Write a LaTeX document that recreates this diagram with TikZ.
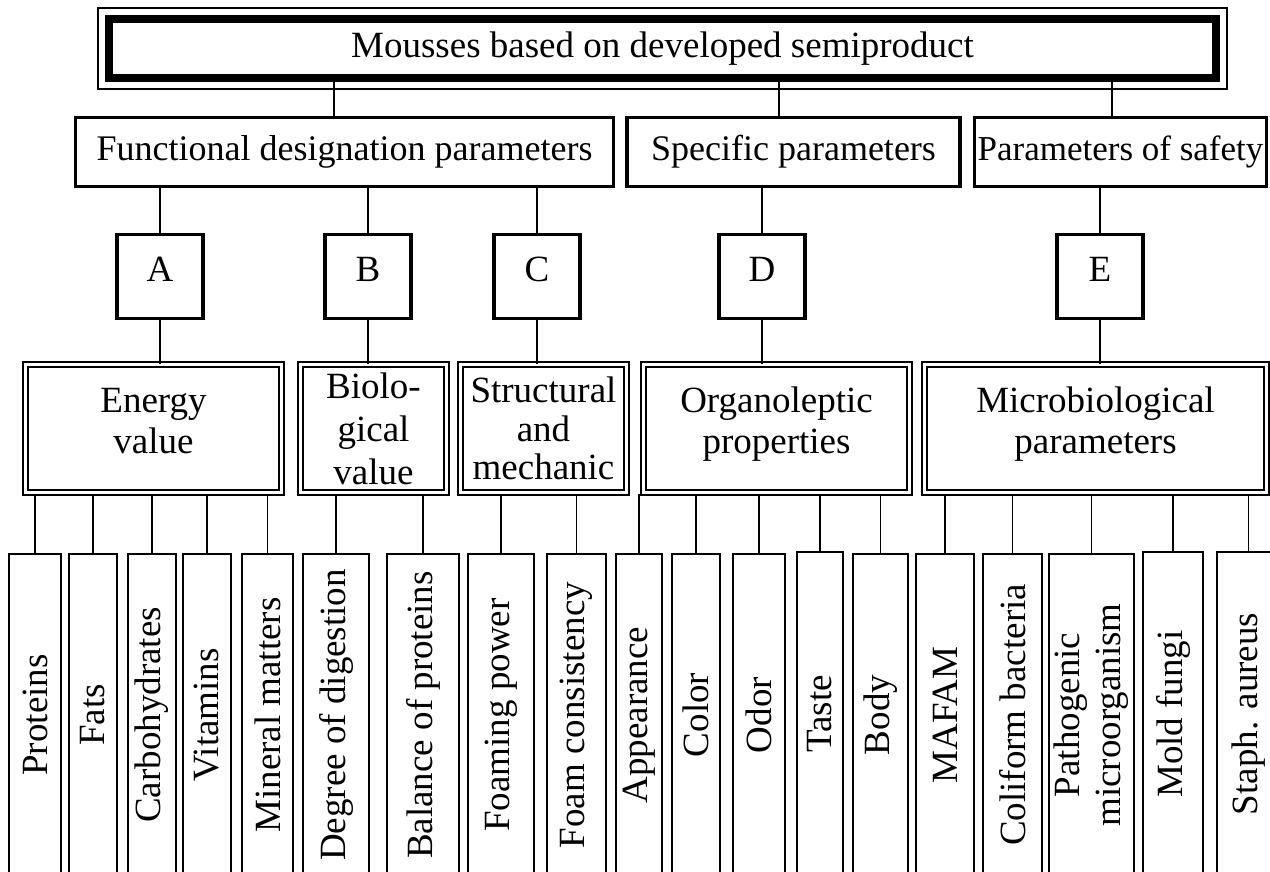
\documentclass[tikz,border=0pt]{standalone}
\usepackage{fontspec}
\setmainfont{Liberation Serif}

\begin{document}
\begin{tikzpicture}[x=1pt, y=-1pt,
    every node/.style={font=\fontsize{37}{41}\selectfont, inner sep=0pt},
    topbox/.style={draw, line width=8pt, minimum width=1107pt, minimum height=59pt},
    groupbox/.style={draw, line width=3.3pt, minimum height=68.5pt, font=\fontsize{36}{40}\selectfont},
    letterbox/.style={draw, line width=3.3pt, minimum width=86pt, minimum height=84pt, text depth=14pt},
    propbox/.style={draw, double, double distance=2.3pt, line width=2pt, minimum height=128pt, align=center},
    leaf/.style={draw, line width=1.5pt, minimum height=322pt},
    stem/.style={line width=1.4pt}]
    \useasboundingbox (0,0) rectangle (1270,872);
    \clip (0,0) rectangle (1270,872);

    % Top: the product
    \node[topbox] (mousses) at (662.5,48.5) {Mousses based on developed semiproduct};
    \draw[line width=1.3pt] ([shift={(-7pt,7pt)}]mousses.north west) rectangle ([shift={(7pt,-7pt)}]mousses.south east);

    % Groups of parameters
    \node[groupbox, minimum width=538pt] (functional) at (344.5,152) {Functional designation parameters};
    \node[groupbox, minimum width=333pt] (specific) at (793.5,152) {Specific parameters};
    \node[groupbox, minimum width=292pt, font=\fontsize{35}{40}\selectfont] (safety) at (1120.5,152) {Parameters of safety};
    \draw[stem] ([xshift=-10.5pt]functional.north) -- ([xshift=-10.5pt]functional.north |- mousses.south);
    \draw[stem] ([xshift=-14.5pt]specific.north) -- ([xshift=-14.5pt]specific.north |- mousses.south);
    \draw[stem] ([xshift=-8.5pt]safety.north) -- ([xshift=-8.5pt]safety.north |- mousses.south);

    % Letters
    \node[letterbox] (A) at (160,276.5) {A};
    \node[letterbox] (B) at (368,276.5) {B};
    \node[letterbox] (C) at (537,276.5) {C};
    \node[letterbox] (D) at (762,276.5) {D};
    \node[letterbox] (E) at (1100,276.5) {E};
    \draw[stem] (A.north) -- (A.north |- functional.south);
    \draw[stem] (B.north) -- (B.north |- functional.south);
    \draw[stem] (C.north) -- (C.north |- functional.south);
    \draw[stem] (D.north) -- (D.north |- specific.south);
    \draw[stem] (E.north) -- (E.north |- safety.south);

    % Properties
    \node[propbox, minimum width=256pt, text depth=16pt] (energy) at (153.5,428.5) {Energy\\value};
    \node[propbox, minimum width=146pt, font=\fontsize{37}{43}\selectfont] (bio) at (373.5,428.5) {Biolo-\\gical\\value};
    \node[propbox, minimum width=166pt, font=\fontsize{37}{38.5}\selectfont] (struct) at (543.5,428.5) {Structural\\and\\mechanic};
    \node[propbox, minimum width=266pt, text depth=16pt] (organo) at (776.5,428.5) {Organoleptic\\properties};
    \node[propbox, minimum width=342pt, text depth=16pt] (micro) at (1095.5,428.5) {Microbiological\\parameters};
    \draw[stem] (A.south) -- (A.south |- energy.north);
    \draw[stem] (B.south) -- (B.south |- bio.north);
    \draw[stem] (C.south) -- (C.south |- struct.north);
    \draw[stem] (D.south) -- (D.south |- organo.north);
    \draw[stem] (E.south) -- (E.south |- micro.north);

    % Energy value
    \node[leaf, minimum width=52pt] (proteins) at (35,715) {\rotatebox{90}{Proteins}};
    \node[leaf, minimum width=48pt] (fats) at (93,715) {\rotatebox{90}{Fats}};
    \node[leaf, minimum width=48pt] (carbo) at (152,715) {\rotatebox{90}{Carbohydrates}};
    \node[leaf, minimum width=48pt] (vitamins) at (207,715) {\rotatebox{90}{Vitamins}};
    \node[leaf, minimum width=51pt] (mineral) at (267.5,715) {\rotatebox{90}{Mineral matters}};
    \foreach \n in {proteins,fats,carbo,vitamins,mineral}
        \draw[stem] (\n.north) -- (\n.north |- energy.south);

    % Biological value
    \node[leaf, minimum width=66pt] (digestion) at (336,715) {\rotatebox{90}{Degree of digestion}};
    \node[leaf, minimum width=72pt] (balance) at (423,715) {\rotatebox{90}{Balance of proteins}};
    \draw[stem] (digestion.north) -- (digestion.north |- bio.south);
    \draw[stem] (balance.north) -- (balance.north |- bio.south);

    % Structural and mechanic
    \node[leaf, minimum width=66pt] (foaming) at (501,715) {\rotatebox{90}{Foaming power}};
    \node[leaf, minimum width=59pt] (foamcons) at (576.5,715) {\rotatebox{90}{Foam consistency}};
    \draw[stem] (foaming.north) -- (foaming.north |- struct.south);
    \draw[stem] (foamcons.north) -- (foamcons.north |- struct.south);

    % Organoleptic properties
    \node[leaf, minimum width=46pt] (appearance) at (639,715) {\rotatebox{90}{Appearance}};
    \node[leaf, minimum width=48pt] (color) at (696,715) {\rotatebox{90}{Color}};
    \node[leaf, minimum width=52pt] (odor) at (759,715) {\rotatebox{90}{Odor}};
    \node[leaf, minimum width=46pt, minimum height=324pt] (taste) at (820,714) {\rotatebox{90}{Taste}};
    \node[leaf, minimum width=55pt] (body) at (880.5,715) {\rotatebox{90}{Body}};
    \foreach \n in {appearance,color,odor,taste,body}
        \draw[stem] (\n.north) -- (\n.north |- organo.south);

    % Microbiological parameters
    \node[leaf, minimum width=58pt] (mafam) at (945,715) {\rotatebox{90}{MAFAM}};
    \node[leaf, minimum width=59pt] (coliform) at (1012.5,715) {\rotatebox{90}{Coliform bacteria}};
    \node[leaf, minimum width=85pt] (pathogenic) at (1091.5,715) {\rotatebox{90}{\begin{tabular}{@{}c@{}}Pathogenic\\microorganism\end{tabular}}};
    \node[leaf, minimum width=60pt, minimum height=324pt] (mold) at (1173,714) {\rotatebox{90}{Mold fungi}};
    \node[leaf, minimum width=63pt, minimum height=324pt] (staph) at (1248.5,714) {\rotatebox{90}{Staph. aureus}};
    \foreach \n in {mafam,coliform,pathogenic,mold,staph}
        \draw[stem] (\n.north) -- (\n.north |- micro.south);
\end{tikzpicture}
\end{document}
